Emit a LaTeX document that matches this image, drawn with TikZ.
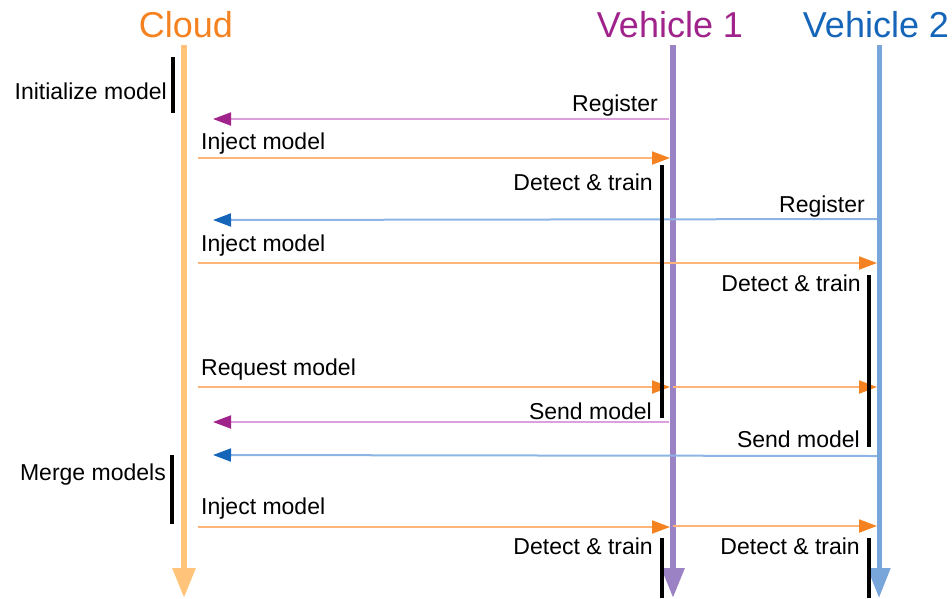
\documentclass[tikz,border=0pt]{standalone}
\usepackage{fontspec}
\setmainfont{Liberation Sans}
\usetikzlibrary{arrows.meta}
\definecolor{cloudT}{RGB}{245,130,32}
\definecolor{cloudL}{RGB}{255,196,122}
\definecolor{vonT}{RGB}{160,35,140}
\definecolor{vonL}{RGB}{155,130,196}
\definecolor{vtwT}{RGB}{21,101,184}
\definecolor{vtwL}{RGB}{120,165,218}
\definecolor{msgO}{RGB}{255,180,120}
\definecolor{msgP}{RGB}{222,160,220}
\definecolor{msgB}{RGB}{140,180,228}
\begin{document}
\begin{tikzpicture}[x=1pt,y=-1pt,
  lifeline/.style={line width=#1, -{Triangle[length=30pt,width=22pt]}},
  msg/.style={line width=2pt},
  toO/.style={msg, draw=msgO, -{Triangle[length=18pt,width=13pt,color=cloudT]}},
  toP/.style={msg, draw=msgP, -{Triangle[length=18pt,width=13pt,color=vonT]}},
  toB/.style={msg, draw=msgB, -{Triangle[length=18pt,width=13pt,color=vtwT]}},
  actbar/.style={line width=4pt, black},
  lbl/.style={font=\fontsize{23}{27}\selectfont, inner sep=0pt},
  ttl/.style={font=\fontsize{36}{42}\selectfont, inner sep=0pt, anchor=base}]
\useasboundingbox (0,0) rectangle (952,598);

% participants
\node[ttl, text=cloudT] (tc) at (186,37) {Cloud};
\node[ttl, text=vonT] (tv1) at (670,37) {Vehicle 1};
\node[ttl, text=vtwT] (tv2) at (876,37) {Vehicle 2};

% lifelines
\coordinate (cT) at (184,45);  \coordinate (cB) at (184,598);
\coordinate (aT) at (673,45);  \coordinate (aB) at (673,598);
\coordinate (bT) at (879,45);  \coordinate (bB) at (879,598);
\draw[lifeline=6pt, draw=cloudL] (cT) -- (cB);
\draw[lifeline=6pt, draw=vonL] (aT) -- (aB);
\draw[lifeline=5pt, draw=vtwL] (bT) -- (bB);

% message end points
\coordinate (r1s) at (669,119); \coordinate (r1e) at (213,119);
\coordinate (i1s) at (198,158); \coordinate (i1e) at (670,158);
\coordinate (r2s) at (877,219); \coordinate (r2e) at (213,220);
\coordinate (i2s) at (198,263); \coordinate (i2e) at (877,263);
\coordinate (q1s) at (198,387); \coordinate (q1e) at (670,387);
\coordinate (q2s) at (673,387); \coordinate (q2e) at (877,387);
\coordinate (s1s) at (669,422); \coordinate (s1e) at (213,422);
\coordinate (s2s) at (877,456); \coordinate (s2e) at (213,455);
\coordinate (j1s) at (198,527); \coordinate (j1e) at (670,527);
\coordinate (j2s) at (673,526); \coordinate (j2e) at (877,526);

% messages
\draw[toP] (r1s) -- (r1e);
\draw[toO] (i1s) -- (i1e);
\draw[toB] (r2s) -- (r2e);
\draw[toO] (i2s) -- (i2e);
\draw[toO] (q1s) -- (q1e);
\draw[toO] (q2s) -- (q2e);
\draw[toP] (s1s) -- (s1e);
\draw[toB] (s2s) -- (s2e);
\draw[toO] (j1s) -- (j1e);
\draw[toO] (j2s) -- (j2e);

% message labels
\node[lbl, anchor=base east] (lr1) at (658,111) {Register};
\node[lbl, anchor=base west] (li1) at (201,149) {Inject model};
\node[lbl, anchor=base east] (lr2) at (865,212) {Register};
\node[lbl, anchor=base west] (li2) at (201,251) {Inject model};
\node[lbl, anchor=base west] (lq) at (201,375) {Request model};
\node[lbl, anchor=base east] (ls1) at (652,419) {Send model};
\node[lbl, anchor=base east] (ls2) at (860,447) {Send model};
\node[lbl, anchor=base west] (lj) at (201,514) {Inject model};

% activity bars
\coordinate (b1t) at (173,57);  \coordinate (b1b) at (173,113);
\coordinate (b2t) at (662,165); \coordinate (b2b) at (662,418);
\coordinate (b3t) at (869,275); \coordinate (b3b) at (869,447);
\coordinate (b4t) at (172,455); \coordinate (b4b) at (172,524);
\coordinate (b5t) at (662,538); \coordinate (b5b) at (662,598);
\coordinate (b6t) at (869,538); \coordinate (b6b) at (869,598);
\draw[actbar] (b1t) -- (b1b);
\draw[actbar] (b2t) -- (b2b);
\draw[actbar] (b3t) -- (b3b);
\draw[actbar] (b4t) -- (b4b);
\draw[actbar] (b5t) -- (b5b);
\draw[actbar] (b6t) -- (b6b);

% activity labels
\node[lbl, anchor=base east] (ai) at (167,99) {Initialize model};
\node[lbl, anchor=base east] (ad1) at (653,190) {Detect \& train};
\node[lbl, anchor=base east] (ad2) at (861,291) {Detect \& train};
\node[lbl, anchor=base east] (am) at (166,480) {Merge models};
\node[lbl, anchor=base east] (ad3) at (653,554) {Detect \& train};
\node[lbl, anchor=base east] (ad4) at (860,554) {Detect \& train};
\end{tikzpicture}
\end{document}
